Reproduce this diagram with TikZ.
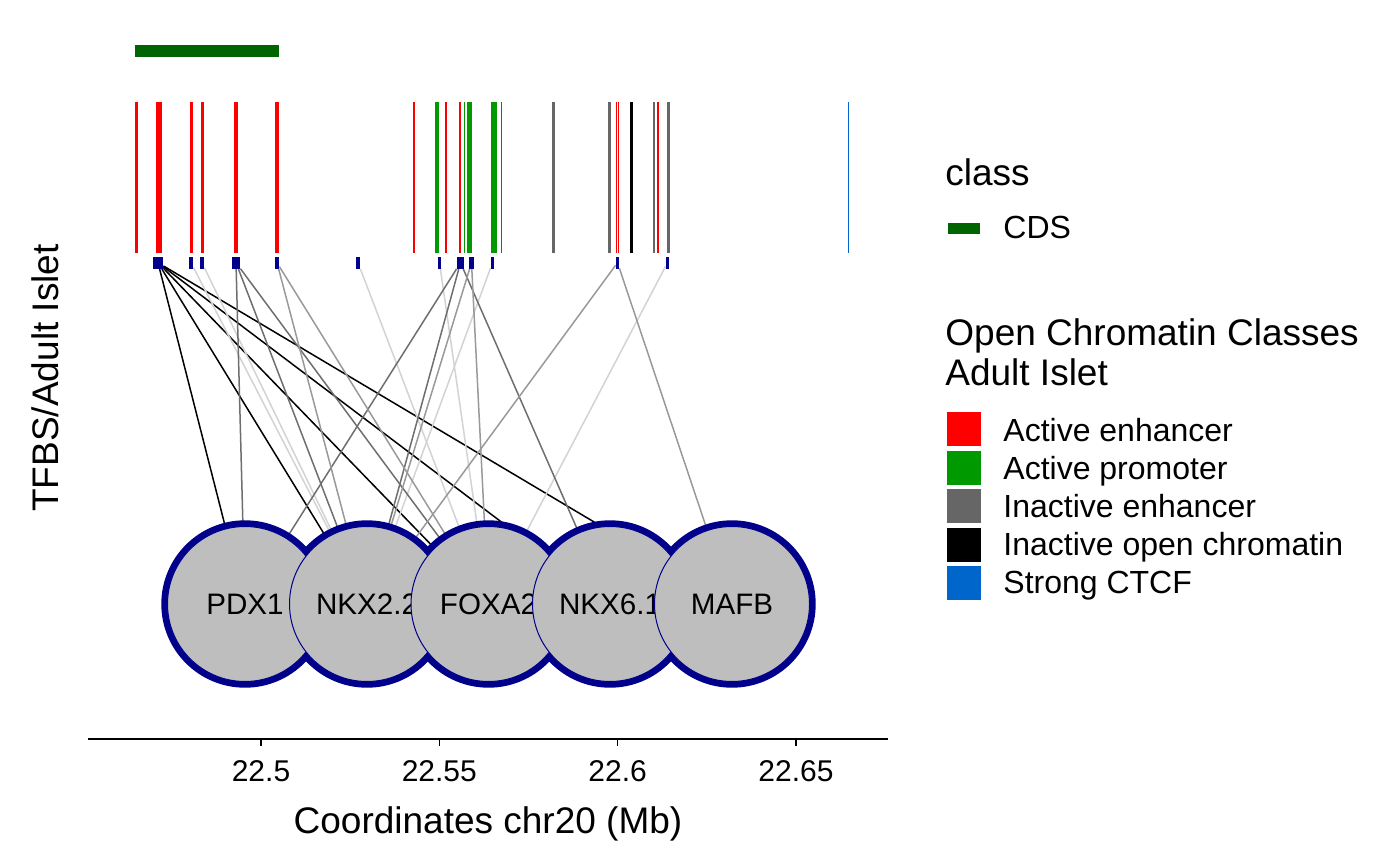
\documentclass[tikz,border=0pt]{standalone}
\usepackage{fontspec}
\setmainfont{Liberation Sans}
\usetikzlibrary{calc}

\definecolor{enhred}{HTML}{FF0000}
\definecolor{promgreen}{HTML}{009900}
\definecolor{inactgray}{HTML}{666666}
\definecolor{ctcfblue}{HTML}{0066CC}
\definecolor{cdsgreen}{HTML}{006400}
\definecolor{tfnavy}{HTML}{00008B}
\definecolor{tffill}{HTML}{BEBEBE}
\definecolor{edgedark}{HTML}{6E6E6E}
\definecolor{edgemid}{HTML}{999999}
\definecolor{edgelight}{HTML}{D3D3D3}

\pgfdeclarelayer{background}
\pgfsetlayers{background,main}

\tikzset{
  tfbs/.style={fill=tfnavy,inner sep=0,minimum height=6pt},
  tfring/.style={circle,draw=tfnavy,line width=3.2pt,fill=tffill,inner sep=0,minimum size=80.5pt},
  tfnode/.style={circle,draw=tfnavy,line width=0.5pt,fill=tffill,inner sep=0,minimum size=77.5pt,
    font=\fontsize{14.8}{17}\selectfont},
  linkblack/.style={draw=black,line width=0.75pt},
  linkdark/.style={draw=edgedark,line width=0.75pt},
  linkmid/.style={draw=edgemid,line width=0.75pt},
  linklight/.style={draw=edgelight,line width=0.75pt},
  legtext/.style={anchor=base west,inner sep=0,font=\fontsize{16}{19}\selectfont},
  legtitle/.style={anchor=base west,inner sep=0,font=\fontsize{18.5}{22}\selectfont},
}

\begin{document}
\begin{tikzpicture}[x=0.5pt,y=-0.5pt]
  \useasboundingbox (0,0) rectangle (1400,865);

  % CDS track
  \fill[cdsgreen] (135,45) rectangle (279,57);

  % open chromatin regions
  \foreach \a/\b/\c in {135/137.7/enhred, 156/162/enhred, 190/192.7/enhred, 201/203.7/enhred,
      234/238/enhred, 275/279/enhred, 413/415/enhred, 435/439/promgreen, 445/447/enhred,
      459/461/enhred, 464/465/promgreen, 467/472/promgreen, 491/497/promgreen, 501/502/ctcfblue,
      552/555/inactgray, 608/611/inactgray, 616/617/enhred, 618/619/enhred, 630/633/black,
      653/655/inactgray, 657/659/enhred, 667/670/inactgray, 847.5/848.5/ctcfblue}
    \fill[\c] (\a,102) rectangle (\b,253);

  % TFBS marks
  \foreach \n/\x/\w in {1/158/5, 2/191/2, 3/202/2, 4/236/4, 5/277/2, 6/358/2,
      7/439.5/1.5, 8/460.5/3.5, 9/471.5/2.5, 10/492.5/1.5, 11/617.5/1.5, 12/667.5/1.5}
    \node[tfbs,minimum width=\w pt] (t\n) at (\x,262.7) {};

  % TF circles: thick rims first, then the fills on top
  \foreach \x in {245,367,488.5,610,732}
    \node[tfring] at (\x,604) {};
  \node[tfnode] (pdx) at (245,604) {PDX1};
  \node[tfnode] (nkxtwo) at (367,604) {NKX2.2};
  \node[tfnode] (foxa) at (488.5,604) {FOXA2};
  \node[tfnode] (nkxsix) at (610,604) {NKX6.1};
  \node[tfnode] (mafb) at (732,604) {MAFB};

  \begin{pgfonlayer}{background}
    \foreach \tf in {pdx,nkxtwo,foxa,nkxsix,mafb}
      \draw[linkblack] (t1) -- (\tf);
    \foreach \s/\tf in {2/nkxtwo, 3/nkxtwo, 6/foxa, 7/foxa, 10/nkxtwo, 12/foxa}
      \draw[linklight] (t\s) -- (\tf);
    \foreach \s/\tf in {4/pdx, 4/nkxtwo, 4/foxa, 8/pdx, 8/nkxtwo, 8/nkxsix}
      \draw[linkdark] (t\s) -- (\tf);
    \foreach \s/\tf in {5/nkxtwo, 5/foxa, 9/nkxtwo, 9/foxa, 11/nkxtwo, 11/mafb}
      \draw[linkmid] (t\s) -- (\tf);
  \end{pgfonlayer}

  % x axis
  \draw[line width=1pt] (88,739) -- (888,739);
  \foreach \x/\lab in {261/22.5, 439.3/22.55, 617.6/22.6, 796/22.65}
    \draw[line width=0.6pt] (\x,739) -- (\x,746)
      node[anchor=base,inner sep=0,font=\fontsize{15}{18}\selectfont] at (\x,781) {\lab};
  \node[anchor=base,inner sep=0,font=\fontsize{18.5}{22}\selectfont] (xlab) at (488,833) {Coordinates chr20 (Mb)};
  \node[rotate=90,inner sep=0,font=\fontsize{18.5}{22}\selectfont] (ylab) at (45,378) {TFBS/Adult Islet};

  % legends
  \node[legtitle] (classtitle) at (945,186) {class};
  \fill[cdsgreen] (948,223) rectangle (980,234);
  \node[legtext] (cdslab) at (1003,239) {CDS};
  \node[legtitle] (octitle) at (945,346) {Open Chromatin Classes};
  \node[legtitle] (octitleb) at (945,386) {Adult Islet};
  \foreach \i/\c/\lab in {0/enhred/Active enhancer, 1/promgreen/Active promoter,
      2/inactgray/Inactive enhancer, 3/black/Inactive open chromatin, 4/ctcfblue/Strong CTCF} {
    \fill[\c] (947,412.3+38.4*\i) rectangle (981,446.3+38.4*\i);
    \node[legtext] (leg\i) at (1003,441+38.1*\i) {\lab};
  }
\end{tikzpicture}
\end{document}
